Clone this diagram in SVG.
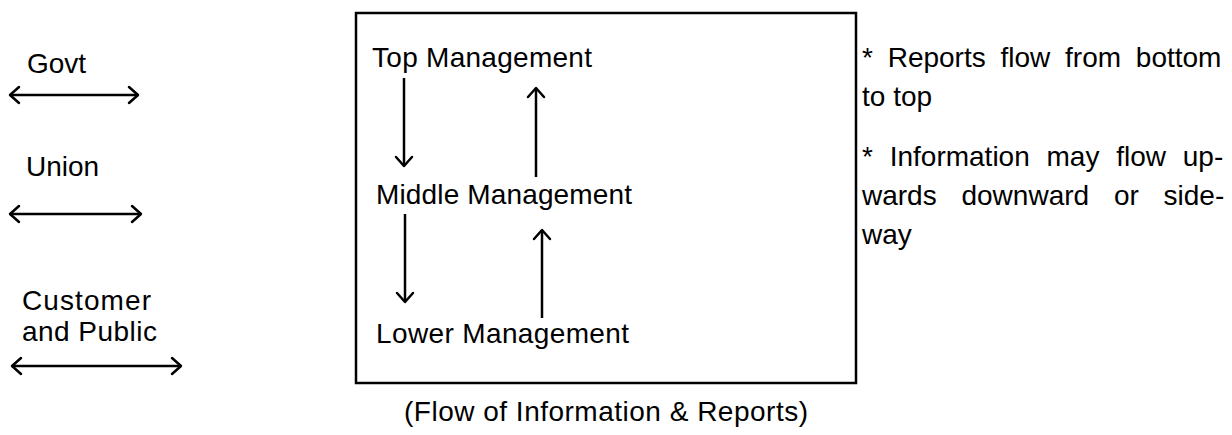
<svg xmlns="http://www.w3.org/2000/svg" width="1232" height="435" viewBox="0 0 1232 435">
<style>
text{font-family:"Liberation Sans",Arial,sans-serif;font-size:28px;fill:#000}
.ln{stroke:#000;stroke-width:2.5;fill:none}
.hd{stroke:#000;stroke-width:2.5;fill:none;stroke-linecap:round;stroke-linejoin:round}
</style>
<rect width="1232" height="435" fill="#fff"/>
<rect x="356" y="13" width="500" height="370" fill="none" stroke="#000" stroke-width="2.5"/>
<g id="govt"><text x="27" y="73">Govt</text></g>
<g id="union"><text x="26" y="176">Union</text></g>
<g id="customer"><text x="22" y="310" textLength="129">Customer</text><text x="22" y="341" textLength="135">and Public</text></g>
<g id="top"><text x="372" y="67" textLength="220">Top Management</text></g>
<g id="middle"><text x="376" y="204" textLength="256">Middle Management</text></g>
<g id="lower"><text x="376" y="343" textLength="253">Lower Management</text></g>
<g id="notes">
<text x="862" y="67" word-spacing="7">* Reports flow from bottom</text>
<text x="862" y="106">to top</text>
<text x="862" y="166" word-spacing="9">* Information may flow up-</text>
<text x="862" y="205" word-spacing="17">wards downward or side-</text>
<text x="862" y="244">way</text>
</g>
<g id="caption"><text x="404" y="421" textLength="404">(Flow of Information &amp; Reports)</text></g>
<g id="connectors">
<path class="ln" d="M10 95H138"/><path class="hd" d="M19 87L10 95L19 103M129 87L138 95L129 103"/>
<path class="ln" d="M10 214H141"/><path class="hd" d="M19 206L10 214L19 222M132 206L141 214L132 222"/>
<path class="ln" d="M12 366H181"/><path class="hd" d="M21 358L12 366L21 374M172 358L181 366L172 374"/>
<path class="ln" d="M404 78V166"/><path class="hd" d="M396 157L404 166L412 157"/>
<path class="ln" d="M405 214V302"/><path class="hd" d="M397 293L405 302L413 293"/>
<path class="ln" d="M536 177V88"/><path class="hd" d="M528 97L536 88L544 97"/>
<path class="ln" d="M542 318V230"/><path class="hd" d="M534 239L542 230L550 239"/>
</g>
</svg>
